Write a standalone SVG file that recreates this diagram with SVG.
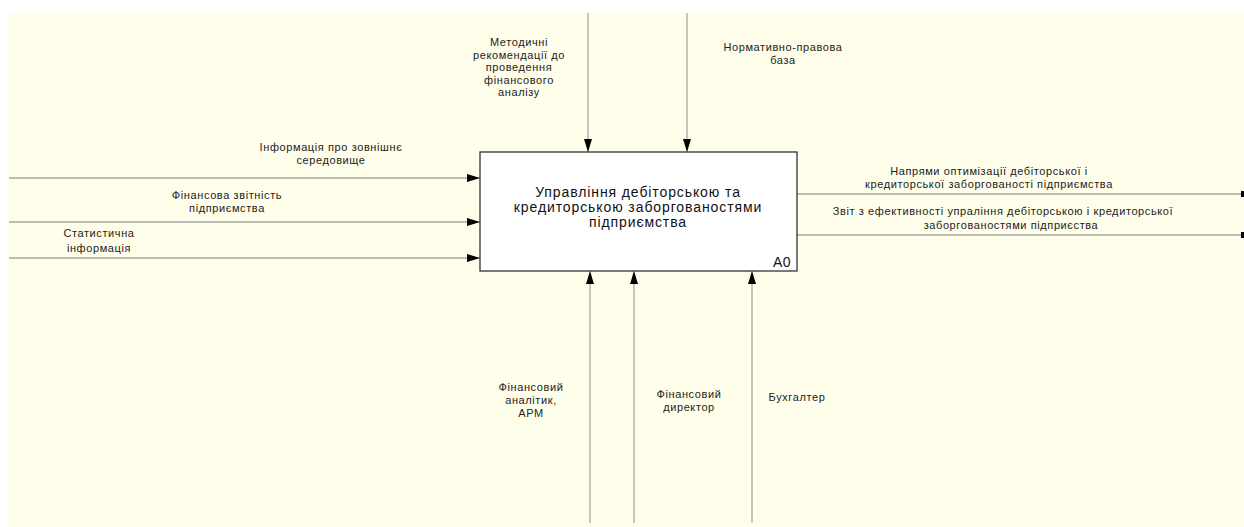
<svg xmlns="http://www.w3.org/2000/svg" width="1244" height="527" viewBox="0 0 1244 527">
<defs>
<style>
.bg{fill:#fffeea}
.conn{stroke:#a8a8a0;stroke-width:1.3;fill:none}
.lbl{font-family:"Liberation Sans",Arial,sans-serif;font-size:11px;letter-spacing:0.6px;fill:#222;text-anchor:middle}
.title{font-family:"Liberation Sans",Arial,sans-serif;font-size:14px;letter-spacing:0.9px;fill:#111;text-anchor:middle}
.box{fill:#ffffff;stroke:#333;stroke-width:1.3}
</style>
<marker id="arr" viewBox="0 0 13 8" refX="13" refY="4" markerWidth="13" markerHeight="8" markerUnits="userSpaceOnUse" orient="auto">
<path d="M0,0 L13,4 L0,8 Z" fill="#000"/>
</marker>
<marker id="sq" viewBox="0 0 3 6" refX="3" refY="3" markerWidth="3" markerHeight="6" markerUnits="userSpaceOnUse" orient="auto">
<rect x="0" y="0" width="3" height="6" fill="#000"/>
</marker>
</defs>
<rect x="0" y="0" width="1244" height="527" fill="#ffffff"/>
<rect class="bg" x="9" y="13" width="1235" height="514"/>
<g id="connectors">
<line class="conn" x1="9" y1="178" x2="480" y2="178" marker-end="url(#arr)"/>
<line class="conn" x1="9" y1="222" x2="480" y2="222" marker-end="url(#arr)"/>
<line class="conn" x1="9" y1="258" x2="480" y2="258" marker-end="url(#arr)"/>
<line class="conn" x1="588" y1="13" x2="588" y2="152" marker-end="url(#arr)"/>
<line class="conn" x1="687" y1="13" x2="687" y2="152" marker-end="url(#arr)"/>
<line class="conn" x1="590" y1="523" x2="590" y2="271" marker-end="url(#arr)"/>
<line class="conn" x1="634" y1="523" x2="634" y2="271" marker-end="url(#arr)"/>
<line class="conn" x1="752" y1="523" x2="752" y2="271" marker-end="url(#arr)"/>
<line class="conn" x1="797" y1="194" x2="1244" y2="194" marker-end="url(#sq)"/>
<line class="conn" x1="797" y1="235" x2="1244" y2="235" marker-end="url(#sq)"/>
<text class="lbl" x="331" y="151">Інформація про зовнішнє</text>
<text class="lbl" x="331" y="164">середовище</text>
<text class="lbl" x="227" y="199">Фінансова звітність</text>
<text class="lbl" x="227" y="212">підприємства</text>
<text class="lbl" x="99" y="237">Статистична</text>
<text class="lbl" x="99" y="252">інформація</text>
<text class="lbl" x="519" y="46">Методичні</text>
<text class="lbl" x="519" y="59">рекомендації до</text>
<text class="lbl" x="519" y="71">проведення</text>
<text class="lbl" x="519" y="84">фінансового</text>
<text class="lbl" x="519" y="96">аналізу</text>
<text class="lbl" x="783" y="51">Нормативно-правова</text>
<text class="lbl" x="783" y="64">база</text>
<text class="lbl" x="989" y="175">Напрями оптимізації дебіторської і</text>
<text class="lbl" x="989" y="188">кредиторської заборгованості підприємства</text>
<text class="lbl" x="1003" y="215">Звіт з ефективності упраління дебіторською і кредиторської</text>
<text class="lbl" x="1011" y="229">заборгованостями підприєства</text>
<text class="lbl" x="531" y="391">Фінансовий</text>
<text class="lbl" x="531" y="404">аналітик,</text>
<text class="lbl" x="531" y="417">АРМ</text>
<text class="lbl" x="689" y="398">Фінансовий</text>
<text class="lbl" x="689" y="411">директор</text>
<text class="lbl" x="797" y="401">Бухгалтер</text>
</g>
<g id="A0">
<rect class="box" x="480" y="152" width="317" height="119"/>
<text class="title" x="638" y="197">Управління дебіторською та</text>
<text class="title" x="638" y="212">кредиторською заборгованостями</text>
<text class="title" x="638" y="227">підприємства</text>
<text class="title" x="782" y="267" style="letter-spacing:0.5px">A0</text>
</g>
</svg>
